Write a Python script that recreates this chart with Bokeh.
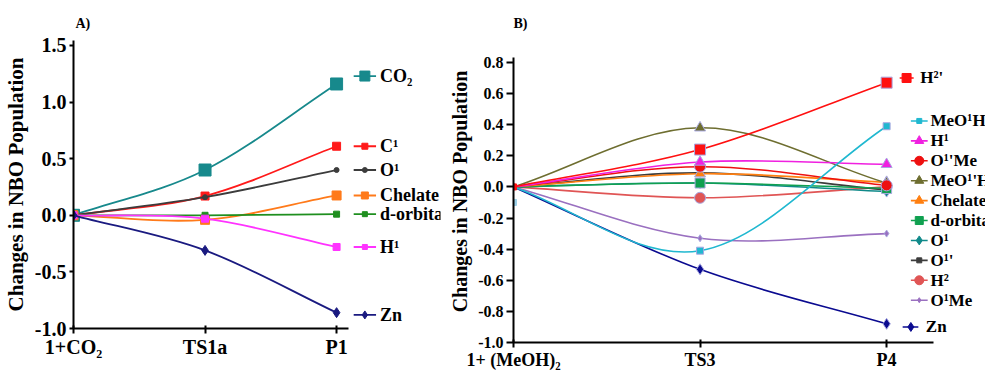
from bokeh.plotting import figure
from bokeh.layouts import row, column
from bokeh.models import FixedTicker, NumeralTickFormatter, ColumnDataSource
from bokeh.embed import file_html
from bokeh.resources import INLINE
from bokeh.core.properties import value

FONT = "Liberation Serif"

# ---------------- Panel A data ----------------
STAGES_A = ["1+CO\u2082", "TS1a", "P1"]
NAMES_A = ["CO\u2082", "C\u00b9", "O\u00b9", "Chelate", "d-orbital", "H\u00b9", "Zn"]
CO2_A = [0.0, 0.40, 1.16]
C1_A = [0.0, 0.17, 0.61]
O1_A = [0.0, 0.16, 0.40]
CHEL_A = [0.0, -0.04, 0.175]
DORB_A = [0.0, 0.0, 0.01]
H1_A = [0.0, -0.03, -0.28]
ZN_A = [0.0, -0.31, -0.86]
SERIES_A = [CO2_A, C1_A, O1_A, CHEL_A, DORB_A, H1_A, ZN_A]
YTICKS_A = [-1.0, -0.5, 0.0, 0.5, 1.0, 1.5]

# ---------------- Panel B data ----------------
STAGES_B = ["1+ (MeOH)\u2082", "TS3", "P4"]
NAMES_B = ["H\u00b2'", "MeO\u00b9H", "H\u00b9", "O\u00b9'Me", "MeO\u00b9'H", "Chelate",
           "d-orbital", "O\u00b9", "O\u00b9'", "H\u00b2", "O\u00b9Me", "Zn"]
H2P_B = [0.0, 0.24, 0.67]
MEO1H_B = [0.0, -0.41, 0.39]
H1_B = [0.0, 0.16, 0.145]
O1PME_B = [0.0, 0.13, 0.01]
MEO1PH_B = [0.0, 0.38, 0.025]
CHEL_B = [0.0, 0.085, 0.03]
DORB_B = [0.0, 0.025, -0.01]
O1_B = [0.0, 0.025, -0.03]
O1P_B = [0.0, 0.09, -0.02]
H2_B = [0.0, -0.07, 0.0]
O1ME_B = [0.0, -0.33, -0.30]
ZN_B = [0.0, -0.53, -0.88]
SERIES_B = [H2P_B, MEO1H_B, H1_B, O1PME_B, MEO1PH_B, CHEL_B, DORB_B, O1_B, O1P_B, H2_B, O1ME_B, ZN_B]
STRAY_B = [-0.10]   # lone light-blue marker at the first stage
YTICKS_B = [-1.0, -0.8, -0.6, -0.4, -0.2, 0.0, 0.2, 0.4, 0.6, 0.8]

# ---------------- styles ----------------
STYLE_A = [("#17898c", "square", 12), ("#ff1a1a", "square", 8), ("#3c3c3c", "circle", 5),
           ("#ff7a1a", "square", 9), ("#1f8f1f", "square", 6), ("#ff33ff", "square", 7),
           ("#1a1a80", "diamond", 10)]
STYLE_B = [("#ff1010", "square", 11), ("#20b8d0", "square", 7), ("#f020e0", "triangle", 11),
           ("#ee1010", "circle", 11), ("#6e6e30", "triangle", 11), ("#ff7f10", "triangle", 11),
           ("#10a050", "square", 10), ("#108a8a", "diamond", 11), ("#3c3c3c", "square", 5),
           ("#e05555", "circle", 11), ("#9a70c0", "diamond", 7), ("#0a0a90", "diamond", 11)]


def smooth(xs, ys):
    """Bezier control points (cardinal spline) for a line through the data points."""
    n = len(xs)
    m = []
    for i in range(n):
        if i == 0:
            m.append((ys[1] - ys[0]) / (xs[1] - xs[0]))
        elif i == n - 1:
            m.append((ys[-1] - ys[-2]) / (xs[-1] - xs[-2]))
        else:
            m.append((ys[i + 1] - ys[i - 1]) / (xs[i + 1] - xs[i - 1]))
    d = dict(x0=[], y0=[], x1=[], y1=[], cx0=[], cy0=[], cx1=[], cy1=[])
    for i in range(n - 1):
        h = xs[i + 1] - xs[i]
        d["x0"].append(xs[i]); d["y0"].append(ys[i])
        d["x1"].append(xs[i + 1]); d["y1"].append(ys[i + 1])
        d["cx0"].append(xs[i] + h / 3); d["cy0"].append(ys[i] + m[i] * h / 3)
        d["cx1"].append(xs[i + 1] - h / 3); d["cy1"].append(ys[i + 1] - m[i + 1] * h / 3)
    return d


def style_axes(p, stages, yticks, xbound, ybound, ylab_size, ytick_size, xtick_size, ytick_out, title):
    p.xgrid.visible = False
    p.ygrid.visible = False
    p.outline_line_color = None
    p.xaxis.ticker = FixedTicker(ticks=[0, 1, 2])
    p.xaxis.major_label_overrides = {0: stages[0], 1: stages[1], 2: stages[2]}
    p.xaxis.bounds = (0, xbound)
    p.yaxis.bounds = ybound
    p.yaxis.ticker = FixedTicker(ticks=yticks)
    p.yaxis.formatter = NumeralTickFormatter(format="0.0")
    for ax in (p.xaxis, p.yaxis):
        ax.axis_line_width = 2
        ax.axis_line_color = "black"
        ax.major_tick_line_width = 2
        ax.major_tick_line_color = "black"
        ax.minor_tick_line_color = None
        ax.major_label_text_font = FONT
        ax.major_label_text_font_style = "bold"
        ax.major_label_text_color = "black"
    p.xaxis.major_tick_in = 3
    p.xaxis.major_tick_out = 5
    p.xaxis.major_label_standoff = 2
    p.xaxis.major_label_text_font_size = xtick_size
    p.yaxis.major_tick_in = 0
    p.yaxis.major_tick_out = ytick_out
    p.yaxis.major_label_standoff = 3
    p.yaxis.major_label_text_font_size = ytick_size
    p.yaxis.axis_label = "Changes in NBO Population"
    p.yaxis.axis_label_text_font = FONT
    p.yaxis.axis_label_text_font_style = "bold"
    p.yaxis.axis_label_text_font_size = ylab_size
    p.yaxis.axis_label_text_color = "black"
    p.yaxis.axis_label_standoff = 4
    p.title.text = title
    p.title.align = "left"
    p.title.text_font = FONT
    p.title.text_font_style = "bold"
    p.title.text_font_size = "14px"
    p.title.text_color = "black"
    p.title.standoff = 20
    p.title.offset = 2


X = [0, 1, 2]
H = 372

# ---------------- Panel A ----------------
pa = figure(width=445, height=H, x_range=(0, 2.79), y_range=(-1.0, 1.544),
            output_backend="svg", toolbar_location=None,
            min_border_left=70, min_border_right=5, min_border_top=40, min_border_bottom=44)
style_axes(pa, STAGES_A, YTICKS_A, 2.09, (-1.0, 1.544), "21px", "20px", "20px", 4, "A)")

LEG_A_Y = [1.23, 0.61, 0.40, 0.175, 0.01, -0.28, -0.88]
for vals, (col, mk, sz), name, ly in zip(SERIES_A, STYLE_A, NAMES_A, LEG_A_Y):
    pa.bezier(source=ColumnDataSource(smooth(X, vals)), x0="x0", y0="y0", x1="x1", y1="y1",
              cx0="cx0", cy0="cy0", cx1="cx1", cy1="cy1", line_color=col, line_width=1.8)
    pa.scatter(X, vals, marker=mk, size=sz, fill_color=col, line_color=col)
    pa.segment(x0=[2.13], y0=[ly], x1=[2.30], y1=[ly], line_color=col, line_width=1.8)
    pa.scatter([2.215], [ly], marker=mk, size=max(sz - 2, 5), fill_color=col, line_color=col)
    pa.text([2.33], [ly], text=[name], text_font=value(FONT), text_font_style="bold",
            text_font_size="18px", text_baseline="middle", text_align="left", text_color="black")

# ---------------- Panel B ----------------
pb = figure(width=540, height=H, x_range=(0, 2.53), y_range=(-1.0, 0.941),
            output_backend="svg", toolbar_location=None,
            min_border_left=68, min_border_right=0, min_border_top=40, min_border_bottom=30)
style_axes(pb, STAGES_B, YTICKS_B, 2.25, (-1.0, 0.832), "20px", "16px", "18px", 7, "B)")
pb.title.offset = 0

pb.scatter([0], STRAY_B, marker="square", size=6, fill_color="#9cd0e8", line_color="#9cd0e8")

LEG_B_X = {"top": (2.07, 2.145, 2.107, 2.18), "mid": (2.13, 2.22, 2.175, 2.235),
           "bot": (2.086, 2.17, 2.13, 2.21)}
LEG_B_TOP_Y = 0.70
LEG_B_MID_START = 0.424
LEG_B_STEP = 0.128
LEG_B_BOT_Y = -0.90

order_draw = list(range(len(SERIES_B)))[::-1]
for i in order_draw:
    vals = SERIES_B[i]
    col, mk, sz = STYLE_B[i]
    pb.bezier(source=ColumnDataSource(smooth(X, vals)), x0="x0", y0="y0", x1="x1", y1="y1",
              cx0="cx0", cy0="cy0", cx1="cx1", cy1="cy1", line_color=col, line_width=1.6)
for i in order_draw:
    vals = SERIES_B[i]
    col, mk, sz = STYLE_B[i]
    pb.scatter(X[1:], vals[1:], marker=mk, size=sz, fill_color=col, line_color="#a8a8e0",
               line_width=1)
    pb.scatter(X[:1], vals[:1], marker=mk, size=max(sz - 5, 4), fill_color=col, line_color=col)

for i, name in enumerate(NAMES_B):
    col, mk, sz = STYLE_B[i]
    if i == 0:
        key, ly = "top", LEG_B_TOP_Y
    elif i == len(NAMES_B) - 1:
        key, ly = "bot", LEG_B_BOT_Y
    else:
        key, ly = "mid", LEG_B_MID_START - (i - 1) * LEG_B_STEP
    lx0, lx1, mx, tx = LEG_B_X[key]
    pb.segment(x0=[lx0], y0=[ly], x1=[lx1], y1=[ly], line_color=col, line_width=1.6)
    pb.scatter([mx], [ly], marker=mk, size=max(sz - 2, 5), fill_color=col, line_color=col)
    pb.text([tx], [ly], text=[name], text_font=value(FONT), text_font_style="bold",
            text_font_size="17px", text_baseline="middle", text_align="left", text_color="black")

layout = row(column(pa), column(pb))
open("out.html", "w").write(file_html(layout, INLINE))
